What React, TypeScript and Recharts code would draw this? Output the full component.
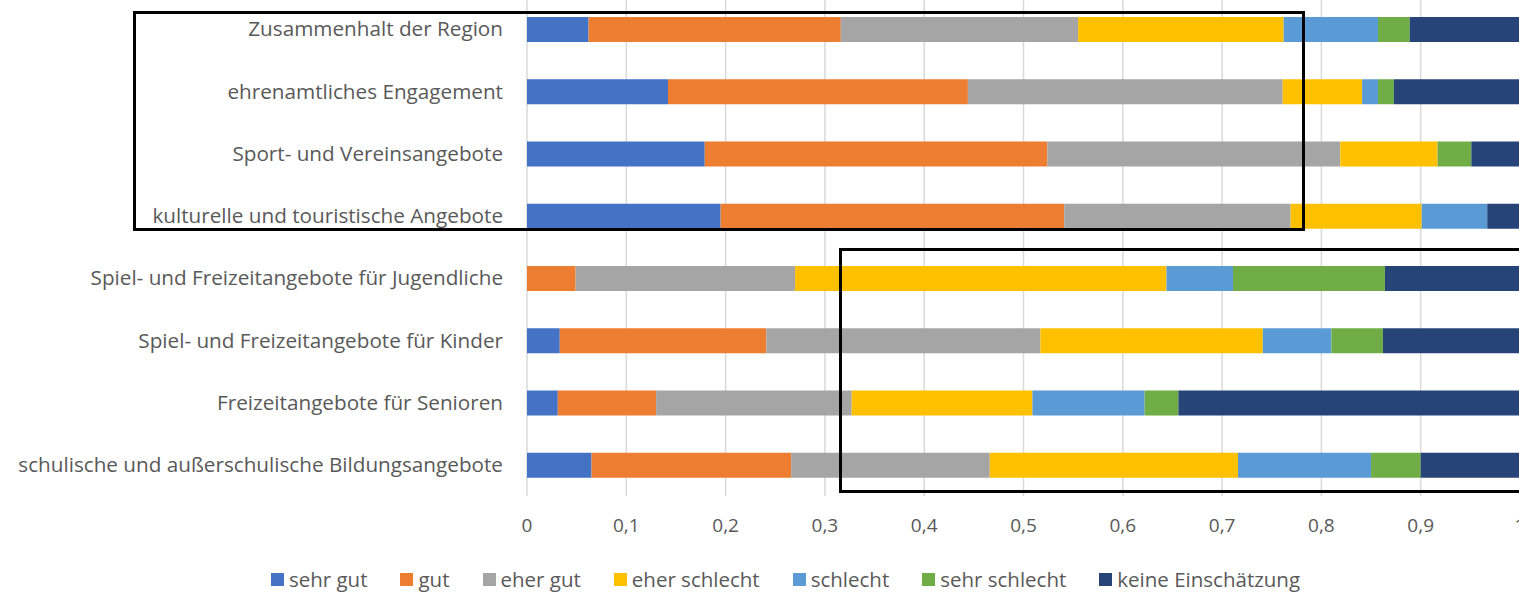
import React from 'react';
import { BarChart, Bar, XAxis, YAxis, CartesianGrid, Legend } from 'recharts';

const categories = [
  'Zusammenhalt der Region',
  'ehrenamtliches Engagement',
  'Sport- und Vereinsangebote',
  'kulturelle und touristische Angebote',
  'Spiel- und Freizeitangebote für Jugendliche',
  'Spiel- und Freizeitangebote für Kinder',
  'Freizeitangebote für Senioren',
  'schulische und außerschulische Bildungsangebote',
];

const seriesNames = ['sehr gut', 'gut', 'eher gut', 'eher schlecht', 'schlecht', 'sehr schlecht', 'keine Einschätzung'];
const seriesColors = ['#4472C4', '#ED7D31', '#A5A5A5', '#FFC000', '#5B9BD5', '#70AD47', '#264478'];

const sehrGut = [0.062, 0.142, 0.179, 0.195, 0, 0.033, 0.031, 0.065];
const gut = [0.254, 0.302, 0.345, 0.346, 0.049, 0.208, 0.099, 0.201];
const eherGut = [0.239, 0.317, 0.295, 0.228, 0.221, 0.276, 0.197, 0.2];
const eherSchlecht = [0.207, 0.08, 0.098, 0.132, 0.374, 0.224, 0.182, 0.25];
const schlecht = [0.095, 0.016, 0, 0.066, 0.067, 0.069, 0.113, 0.134];
const sehrSchlecht = [0.032, 0.016, 0.034, 0, 0.153, 0.052, 0.034, 0.05];
const keine = [0.111, 0.127, 0.049, 0.033, 0.136, 0.138, 0.344, 0.1];

const xTicks = [0, 0.1, 0.2, 0.3, 0.4, 0.5, 0.6, 0.7, 0.8, 0.9, 1];

const seriesValues = [sehrGut, gut, eherGut, eherSchlecht, schlecht, sehrSchlecht, keine];

const data = categories.map((name, i) => {
  const row: Record<string, string | number> = { name };
  seriesNames.forEach((s, k) => {
    row[s] = seriesValues[k][i];
  });
  return row;
});

const font = '"Open Sans", sans-serif';

// legend in the original series order (recharts would sort it otherwise)
const renderLegend = () => (
  <div style={{ display: 'flex', justifyContent: 'center', fontFamily: font, fontSize: 20.5, color: '#595959', lineHeight: '26px', paddingLeft: 84 }}>
    {seriesNames.map((s, k) => (
      <span key={s} style={{ display: 'inline-flex', alignItems: 'center', marginRight: 33 }}>
        <span style={{ display: 'inline-block', width: 13, height: 13, background: seriesColors[k], marginRight: 5 }} />
        {s}
      </span>
    ))}
  </div>
);

const App = () => {
  return (
    <div style={{ position: 'absolute', left: 0, top: -2, fontFamily: font }}>
      <BarChart
        width={1540}
        height={594}
        data={data}
        layout="vertical"
        margin={{ top: 0, right: 20, left: 0, bottom: 0 }}
      >
        <CartesianGrid horizontal={false} stroke="#D9D9D9" strokeWidth={1.5} />
        <XAxis
          type="number"
          domain={[0, 1]}
          ticks={xTicks}
          tickFormatter={(v: number) => String(v).replace('.', ',')}
          axisLine={false}
          tickLine={false}
          tick={{ fill: '#595959', fontSize: 19, fontFamily: font }}
          tickMargin={17}
          height={70}
        />
        <YAxis
          type="category"
          dataKey="name"
          width={527}
          axisLine={false}
          tickLine={false}
          tick={{ fill: '#595959', fontSize: 20.7, fontFamily: font }}
          tickMargin={18}
        />
        <Legend verticalAlign="bottom" content={renderLegend} />
        {seriesNames.map((s, k) => (
          <Bar key={s} dataKey={s} stackId="a" fill={seriesColors[k]} barSize={25} isAnimationActive={false} />
        ))}
      </BarChart>
      <div style={{ position: 'absolute', left: 133, top: 13, width: 1172, height: 220, border: '3px solid #000', boxSizing: 'border-box' }} />
      <div style={{ position: 'absolute', left: 839, top: 250, width: 700, height: 245, border: '3px solid #000', boxSizing: 'border-box' }} />
    </div>
  );
};

export default App;
